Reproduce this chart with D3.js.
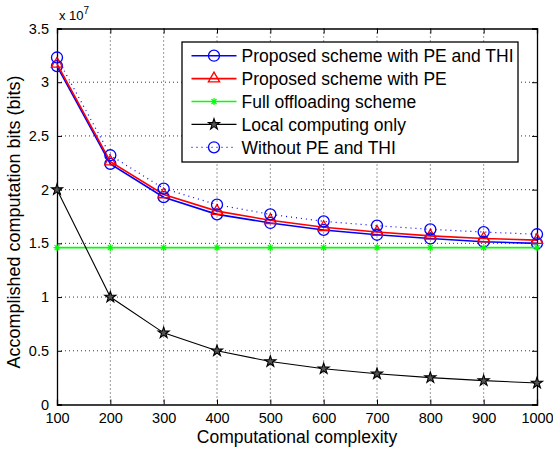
<!DOCTYPE html>
<html>
<head>
<meta charset="utf-8">
<script src="https://cdn.jsdelivr.net/npm/d3@7"></script>
<style>
  body { margin: 0; background: #fff; }
  text { font-family: "Liberation Sans", Arial, sans-serif; }
</style>
</head>
<body>
<div id="chart"></div>
<script>
var svgWidth = 553;
var svgHeight = 449;

var margin = { top: 28.5, right: 16, bottom: 44.5, left: 57 };
var width = svgWidth - margin.left - margin.right;
var height = svgHeight - margin.top - margin.bottom;

// data (values in units of 1e7 bits)
var complexity = [100, 200, 300, 400, 500, 600, 700, 800, 900, 1000];
var peThi   = [3.15, 2.24, 1.93, 1.77, 1.69, 1.625, 1.58, 1.545, 1.515, 1.50];
var peOnly  = [3.17, 2.26, 1.955, 1.80, 1.715, 1.65, 1.605, 1.57, 1.545, 1.53];
var fullOff = [1.46, 1.46, 1.46, 1.46, 1.46, 1.46, 1.46, 1.46, 1.46, 1.46];
var local   = [2.0, 1.0, 0.667, 0.5, 0.4, 0.333, 0.286, 0.25, 0.222, 0.2];
var noPeThi = [3.23, 2.32, 2.01, 1.86, 1.77, 1.705, 1.665, 1.63, 1.605, 1.585];

var xTicks = [100, 200, 300, 400, 500, 600, 700, 800, 900, 1000];
var yTicks = [0, 0.5, 1, 1.5, 2, 2.5, 3, 3.5];
var legendNames = [
  "Proposed scheme with PE and THI",
  "Proposed scheme with PE",
  "Full offloading scheme",
  "Local computing only",
  "Without PE and THI"
];

var svg = d3.select("#chart")
  .append("svg")
  .attr("width", svgWidth)
  .attr("height", svgHeight);

var chartGroup = svg.append("g")
  .attr("transform", `translate(${margin.left}, ${margin.top})`);

var x = d3.scaleLinear().domain([100, 1000]).range([0, width]);
var y = d3.scaleLinear().domain([0, 3.5]).range([height, 0]);

// grid
chartGroup.append("g")
  .selectAll("line")
  .data(xTicks.slice(1, -1))
  .enter()
  .append("line")
  .attr("x1", d => x(d)).attr("x2", d => x(d))
  .attr("y1", 0).attr("y2", height)
  .attr("stroke", "#000").attr("stroke-width", 0.8)
  .attr("stroke-dasharray", "1,3");

chartGroup.append("g")
  .selectAll("line")
  .data(yTicks.slice(1, -1))
  .enter()
  .append("line")
  .attr("x1", 0).attr("x2", width)
  .attr("y1", d => y(d)).attr("y2", d => y(d))
  .attr("stroke", "#000").attr("stroke-width", 0.8)
  .attr("stroke-dasharray", "1,3");

// axes, ticks inward on all four sides
var bottomAxis = d3.axisBottom(x).tickValues(xTicks).tickSize(-5).tickPadding(8)
  .tickFormat(d3.format("d"));
var topAxis = d3.axisTop(x).tickValues(xTicks).tickSize(-5).tickFormat("");
var leftAxis = d3.axisLeft(y).tickValues(yTicks).tickSize(-5).tickPadding(8)
  .tickFormat(d3.format("~g"));
var rightAxis = d3.axisRight(y).tickValues(yTicks).tickSize(-5).tickFormat("");

function styleAxis(g) {
  g.select(".domain").attr("stroke", "#000").attr("stroke-width", 1.3);
  g.selectAll(".tick line").attr("stroke", "#000");
  g.selectAll(".tick text").attr("font-size", 14.5).attr("fill", "#000")
    .attr("font-family", "'Liberation Sans', Arial, sans-serif");
}

chartGroup.append("g").attr("transform", `translate(0, ${height})`).call(bottomAxis).call(styleAxis);
chartGroup.append("g").call(topAxis).call(styleAxis);
chartGroup.append("g").call(leftAxis).call(styleAxis);
chartGroup.append("g").attr("transform", `translate(${width}, 0)`).call(rightAxis).call(styleAxis);

// exponent
var expo = chartGroup.append("text")
  .attr("x", 2).attr("y", -9)
  .attr("font-size", 13)
  .text("x 10");
expo.append("tspan").attr("dy", -6).attr("font-size", 10).text("7");

// marker shapes
var starPath = d3.symbol().type(d3.symbolStar).size(38)();
var triPath = d3.symbol().type(d3.symbolTriangle).size(55)();
var asterPath = "M-3.5,0H3.5M0,-3.5V3.5M-2.5,-2.5L2.5,2.5M-2.5,2.5L2.5,-2.5";

var series = [
  { values: peThi,   color: "#0000ff", width: 1.6, dash: null,  marker: "circle" },
  { values: peOnly,  color: "#ff0000", width: 1.6, dash: null,  marker: "triangle" },
  { values: fullOff, color: "#00ff00", width: 1.6, dash: null,  marker: "asterisk" },
  { values: local,   color: "#000000", width: 1.1, dash: null,  marker: "star" },
  { values: noPeThi, color: "#0000ff", width: 1.2, dash: "1,4", marker: "circle" }
];

var line = d3.line()
  .x((d, i) => x(complexity[i]))
  .y(d => y(d));

function drawMarker(g, type, color) {
  if (type === "circle") {
    g.append("circle").attr("r", 5.5).attr("fill", "none")
      .attr("stroke", color).attr("stroke-width", 1.3);
  } else if (type === "triangle") {
    g.append("path").attr("d", triPath).attr("fill", "none")
      .attr("stroke", color).attr("stroke-width", 1.3);
  } else if (type === "asterisk") {
    g.append("path").attr("d", asterPath).attr("fill", "none")
      .attr("stroke", color).attr("stroke-width", 1.2);
  } else if (type === "star") {
    g.append("path").attr("d", starPath).attr("fill", "#555")
      .attr("stroke", color).attr("stroke-width", 1.1);
  }
}

series.forEach(function(s) {
  chartGroup.append("path")
    .datum(s.values)
    .attr("d", line)
    .attr("fill", "none")
    .attr("stroke", s.color)
    .attr("stroke-width", s.width)
    .attr("stroke-dasharray", s.dash);

  s.values.forEach(function(v, i) {
    var g = chartGroup.append("g")
      .attr("transform", `translate(${x(complexity[i])}, ${y(v)})`);
    drawMarker(g, s.marker, s.color);
  });
});

// legend
var legend = svg.append("g").attr("transform", "translate(182, 42)");
legend.append("rect")
  .attr("width", 336).attr("height", 120)
  .attr("fill", "#fff").attr("stroke", "#000").attr("stroke-width", 1.3);

series.forEach(function(s, i) {
  var row = legend.append("g").attr("transform", `translate(0, ${13.7 + i * 22.9})`);
  row.append("line")
    .attr("x1", 9.5).attr("x2", 54.5)
    .attr("stroke", s.color).attr("stroke-width", s.width)
    .attr("stroke-dasharray", s.dash);
  var m = row.append("g").attr("transform", "translate(32, 0)");
  drawMarker(m, s.marker, s.color);
  row.append("text")
    .attr("x", 59.5).attr("y", 6.3)
    .attr("font-size", 17.5)
    .text(legendNames[i]);
});

// axis labels
svg.append("text")
  .attr("x", margin.left + width / 2).attr("y", 443)
  .attr("text-anchor", "middle")
  .attr("font-size", 17.5)
  .text("Computational complexity");

svg.append("text")
  .attr("transform", "translate(20, 222) rotate(-90)")
  .attr("text-anchor", "middle")
  .attr("font-size", 18)
  .text("Accomplished computation bits (bits)");
</script>
</body>
</html>
